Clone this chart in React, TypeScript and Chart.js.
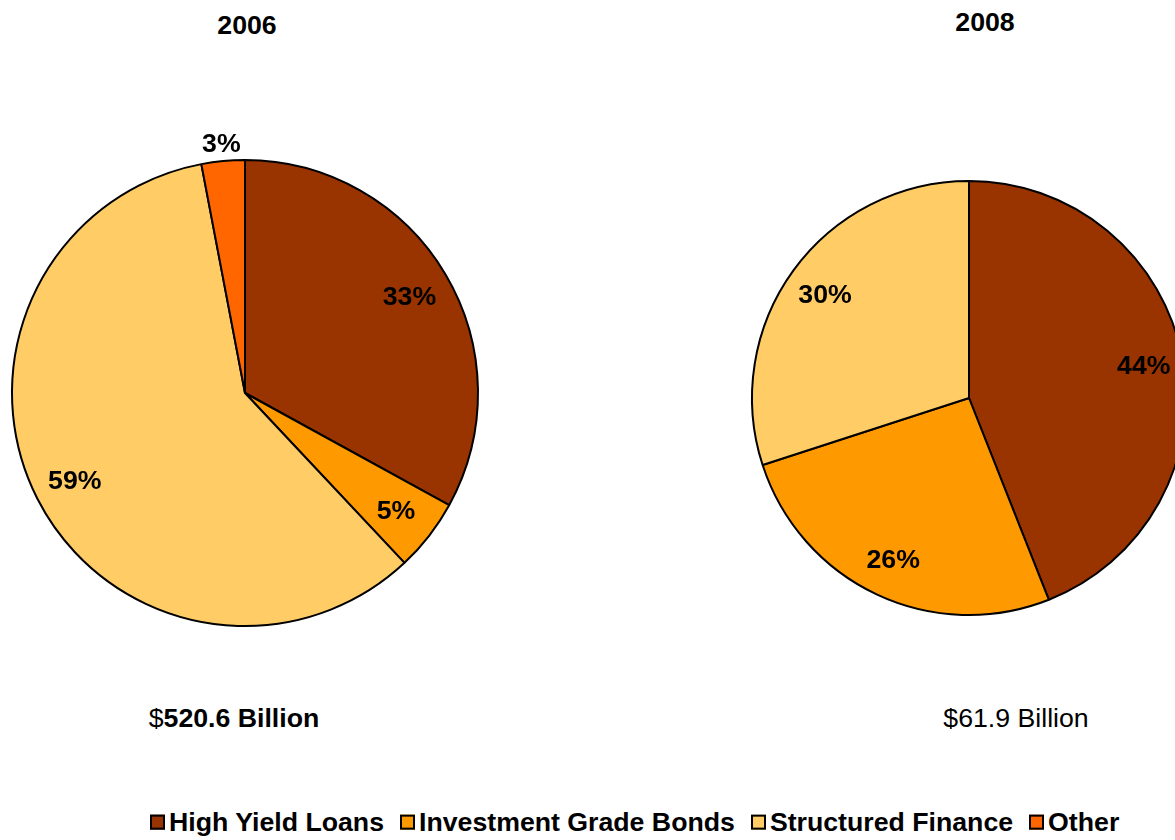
import React, { useEffect, useRef } from 'react';
import { Chart, registerables } from 'chart.js';

Chart.register(...registerables);

const categories = ['High Yield Loans', 'Investment Grade Bonds', 'Structured Finance', 'Other'];
const colors = ['#993300', '#FF9900', '#FFCC66', '#FF6600'];
const values2006 = [33, 5, 59, 3];
const values2008 = [44, 26, 30];
const title2006 = '2006';
const title2008 = '2008';

const FONT = '"Liberation Sans", Arial, Helvetica, sans-serif';

const pctLabels = {
  id: 'pctLabels',
  afterDatasetsDraw(chart: any) {
    const ctx = chart.ctx;
    const meta = chart.getDatasetMeta(0);
    const data = chart.data.datasets[0].data as number[];
    ctx.save();
    ctx.font = `bold 26.7px ${FONT}`;
    ctx.fillStyle = '#000';
    ctx.textAlign = 'center';
    ctx.textBaseline = 'middle';
    meta.data.forEach((arc: any, i: number) => {
      const v = data[i];
      if (!v) return;
      const p = arc.getProps(['x', 'y', 'startAngle', 'endAngle', 'outerRadius'], true);
      const mid = (p.startAngle + p.endAngle) / 2;
      const r = v < 4 ? p.outerRadius + 18 : p.outerRadius * 0.82;
      ctx.fillText(`${v}%`, p.x + Math.cos(mid) * r, p.y + Math.sin(mid) * r + 2);
    });
    ctx.restore();
  },
};

function Pie({ values, left, top, size, pad }: { values: number[]; left: number; top: number; size: number; pad: number }) {
  const ref = useRef<HTMLCanvasElement>(null);
  useEffect(() => {
    if (!ref.current) return;
    const chart = new Chart(ref.current, {
      type: 'pie',
      data: {
        labels: categories.slice(0, values.length),
        datasets: [
          {
            data: values,
            backgroundColor: colors.slice(0, values.length),
            borderColor: '#000',
            borderWidth: 2,
          },
        ],
      },
      options: {
        responsive: false,
        animation: false,
        layout: { padding: pad },
        plugins: { legend: { display: false }, tooltip: { enabled: false }, title: { display: false } },
      },
      plugins: [pctLabels],
    });
    return () => chart.destroy();
  }, []);
  return (
    <canvas
      ref={ref}
      width={size}
      height={size}
      style={{ position: 'absolute', left, top, width: size, height: size }}
    />
  );
}

export default function App() {
  const textBase: React.CSSProperties = {
    position: 'absolute',
    fontFamily: FONT,
    fontSize: '26.7px',
    color: '#000',
    whiteSpace: 'nowrap',
    lineHeight: 1,
  };
  return (
    <div
      style={{
        position: 'fixed',
        left: 0,
        top: 0,
        width: 1175,
        height: 840,
        overflow: 'hidden',
        background: '#fff',
      }}
    >
      <Pie values={values2006} left={-35} top={113} size={560} pad={46} />
      <Pie values={values2008} left={689} top={118} size={560} pad={62} />
      <div style={{ ...textBase, fontWeight: 'bold', left: 247, top: 25, transform: 'translate(-50%,-50%)' }}>{title2006}</div>
      <div style={{ ...textBase, fontWeight: 'bold', left: 985, top: 22, transform: 'translate(-50%,-50%)' }}>{title2008}</div>
      <div style={{ ...textBase, left: 234, top: 718, transform: 'translate(-50%,-50%)' }}>
        $<b>520.6 Billion</b>
      </div>
      <div style={{ ...textBase, left: 1016, top: 718, transform: 'translate(-50%,-50%)' }}>$61.9 Billion</div>
      <div
        style={{
          ...textBase,
          fontWeight: 'bold',
          left: 150,
          top: 822,
          transform: 'translateY(-50%)',
          display: 'flex',
          alignItems: 'center',
        }}
      >
        {categories.map((c, i) => (
          <span key={c} style={{ display: 'flex', alignItems: 'center', marginRight: 16 }}>
            <span
              style={{
                display: 'inline-block',
                width: 11,
                height: 11,
                background: colors[i],
                border: '2px solid #000',
                marginRight: 4,
              }}
            />
            {c}
          </span>
        ))}
      </div>
    </div>
  );
}
